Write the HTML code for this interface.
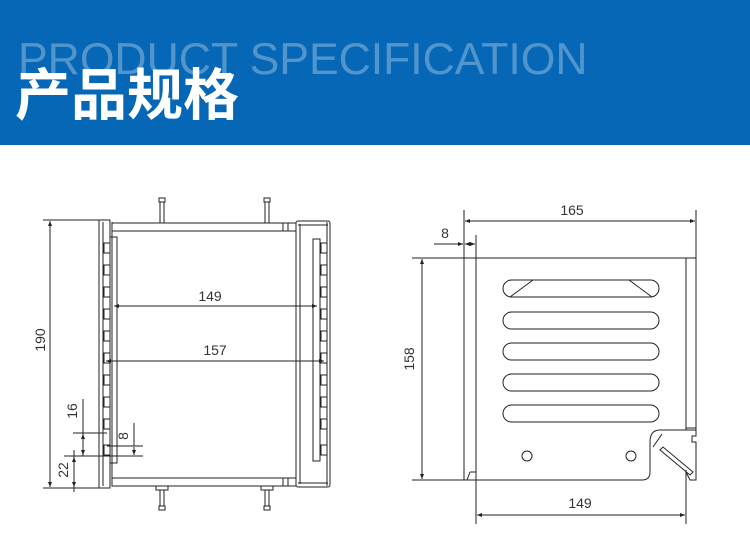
<!DOCTYPE html>
<html><head><meta charset="utf-8"><style>
html,body{margin:0;padding:0;background:#fff;width:750px;height:554px;overflow:hidden}
.hdr{position:absolute;left:0;top:0;width:750px;height:145px;background:#0667b6}
.en{position:absolute;left:18px;top:35px;font:44.5px "Liberation Sans",sans-serif;color:rgba(255,255,255,0.3);white-space:nowrap}
.cn{position:absolute;left:15px;top:51px;font:bold 56px "Liberation Sans","Noto Sans CJK SC",sans-serif;color:#fff;white-space:nowrap}
svg{position:absolute;left:0;top:0}
text{font-family:"Liberation Sans",sans-serif;font-size:14px;fill:#333}
</style></head><body>
<div class="hdr"></div>
<div class="en">PRODUCT SPECIFICATION</div>
<div class="cn">产品规格</div>
<svg width="750" height="554" viewBox="0 0 750 554">
<defs>
<marker id="a" viewBox="0 0 10 10" refX="10" refY="5" markerWidth="7" markerHeight="5" orient="auto-start-reverse"><path d="M0,1 L10,5 L0,9 z" fill="#222"/></marker>
</defs>
<g stroke="#222" stroke-width="1" fill="none">
<line x1="43" y1="220" x2="100" y2="220"/><line x1="43" y1="488" x2="100" y2="488"/>
<line x1="50" y1="221" x2="50" y2="487" marker-start="url(#a)" marker-end="url(#a)"/>
<rect x="159" y="198" width="6" height="4"/><line x1="160" y1="202" x2="160" y2="223"/><line x1="164" y1="202" x2="164" y2="223"/>
<rect x="264" y="198" width="6" height="4"/><line x1="265" y1="202" x2="265" y2="223"/><line x1="269" y1="202" x2="269" y2="223"/>
<rect x="159" y="506" width="6" height="4"/><rect x="156" y="486" width="12" height="4"/><line x1="160" y1="490" x2="160" y2="506"/><line x1="164" y1="490" x2="164" y2="506"/>
<rect x="264" y="506" width="6" height="4"/><rect x="261" y="486" width="12" height="4"/><line x1="265" y1="490" x2="265" y2="506"/><line x1="269" y1="490" x2="269" y2="506"/>
<rect x="99" y="220" width="11" height="268"/>
<line x1="103" y1="222" x2="103" y2="486"/>
<line x1="112" y1="222" x2="112" y2="486"/>
<rect x="110" y="237" width="7" height="226"/>
<g>
<rect x="104" y="243" width="6" height="10"/><rect x="104" y="265" width="6" height="10"/><rect x="104" y="287" width="6" height="10"/>
<rect x="104" y="309" width="6" height="10"/><rect x="104" y="331" width="6" height="10"/><rect x="104" y="353" width="6" height="10"/>
<rect x="104" y="375" width="6" height="10"/><rect x="104" y="397" width="6" height="10"/><rect x="104" y="419" width="6" height="10"/>
<rect x="104" y="445" width="6" height="10"/>
<rect x="321" y="243" width="6" height="10"/><rect x="321" y="265" width="6" height="10"/><rect x="321" y="287" width="6" height="10"/>
<rect x="321" y="309" width="6" height="10"/><rect x="321" y="331" width="6" height="10"/><rect x="321" y="353" width="6" height="10"/>
<rect x="321" y="375" width="6" height="10"/><rect x="321" y="397" width="6" height="10"/><rect x="321" y="419" width="6" height="10"/>
<rect x="321" y="445" width="6" height="10"/>
</g>
<rect x="112" y="223" width="184" height="8"/>
<rect x="112" y="478" width="184" height="8"/>
<line x1="283" y1="223" x2="283" y2="231"/><line x1="288" y1="223" x2="288" y2="231"/>
<line x1="283" y1="478" x2="283" y2="486"/><line x1="288" y1="478" x2="288" y2="486"/>
<rect x="296" y="221" width="34" height="266" rx="2"/>
<line x1="300" y1="224" x2="300" y2="484"/>
<line x1="298" y1="225" x2="328" y2="225"/><line x1="298" y1="483" x2="328" y2="483"/>
<line x1="327" y1="222" x2="327" y2="486"/>
<rect x="313" y="239" width="7" height="222"/>
<line x1="114" y1="306" x2="317" y2="306" marker-start="url(#a)" marker-end="url(#a)"/>
<line x1="106" y1="361" x2="324" y2="361" marker-start="url(#a)" marker-end="url(#a)"/>
<line x1="73" y1="433" x2="107" y2="433"/><line x1="64" y1="456" x2="143" y2="456"/><line x1="64" y1="488" x2="100" y2="488"/>
<line x1="83" y1="399" x2="83" y2="456"/>
<line x1="83" y1="434" x2="83" y2="455" marker-start="url(#a)" marker-end="url(#a)"/>
<line x1="74" y1="450" x2="74" y2="492"/>
<line x1="74" y1="457" x2="74" y2="487" marker-start="url(#a)" marker-end="url(#a)"/>
<line x1="107" y1="446" x2="143" y2="446"/>
<line x1="134" y1="423" x2="134" y2="446"/>
<line x1="134" y1="447" x2="134" y2="455" marker-end="url(#a)"/>
<line x1="464" y1="210" x2="464" y2="258"/><line x1="696" y1="210" x2="696" y2="258"/>
<line x1="465" y1="221" x2="695" y2="221" marker-start="url(#a)" marker-end="url(#a)"/>
<line x1="476" y1="235" x2="476" y2="258"/>
<line x1="434" y1="244" x2="463" y2="244" marker-end="url(#a)"/>
<line x1="465" y1="244" x2="475" y2="244" marker-start="url(#a)" marker-end="url(#a)"/>
<line x1="412" y1="258" x2="464" y2="258"/><line x1="412" y1="480" x2="464" y2="480"/>
<line x1="422" y1="259" x2="422" y2="479" marker-start="url(#a)" marker-end="url(#a)"/>
<rect x="464" y="258" width="12" height="222"/>
<line x1="467" y1="480" x2="470" y2="472"/><line x1="470" y1="472" x2="476" y2="472"/>
<path d="M476,258 H686 V430 H660 Q650,430 650,442 V472 Q650,480 642,480 H476 Z"/>
<rect x="686" y="258" width="10" height="172"/>
<line x1="686" y1="428" x2="696" y2="428"/>
<path d="M686,430 H696 V436 H692 V442 H696 V480 H690 L686,472"/>
<line x1="653" y1="447" x2="662" y2="434"/>
<path d="M660,450 L690,475 L693,472 L663,447 Z"/>
<g>
<rect x="503" y="280" width="156" height="17" rx="8.5"/>
<line x1="510" y1="297" x2="533" y2="280"/><line x1="652" y1="297" x2="629" y2="280"/>
<rect x="503" y="312" width="156" height="17" rx="8.5"/>
<rect x="503" y="343" width="156" height="17" rx="8.5"/>
<rect x="503" y="374" width="156" height="17" rx="8.5"/>
<rect x="503" y="405" width="156" height="17" rx="8.5"/>
</g>
<circle cx="527" cy="456" r="5"/><circle cx="631" cy="456" r="5"/>
<line x1="476" y1="480" x2="476" y2="524"/><line x1="686" y1="470" x2="686" y2="524"/>
<line x1="477" y1="515" x2="685" y2="515" marker-start="url(#a)" marker-end="url(#a)"/>
</g>
<text x="210" y="301" text-anchor="middle">149</text>
<text x="215" y="355" text-anchor="middle">157</text>
<text x="572" y="215" text-anchor="middle">165</text>
<text x="445" y="238" text-anchor="middle">8</text>
<text x="580" y="508" text-anchor="middle">149</text>
<text transform="translate(45,340) rotate(-90)" text-anchor="middle">190</text>
<text transform="translate(414,359) rotate(-90)" text-anchor="middle">158</text>
<text transform="translate(77,411) rotate(-90)" text-anchor="middle">16</text>
<text transform="translate(68,470) rotate(-90)" text-anchor="middle">22</text>
<text transform="translate(128,436) rotate(-90)" text-anchor="middle">8</text>
</svg>
</body></html>
